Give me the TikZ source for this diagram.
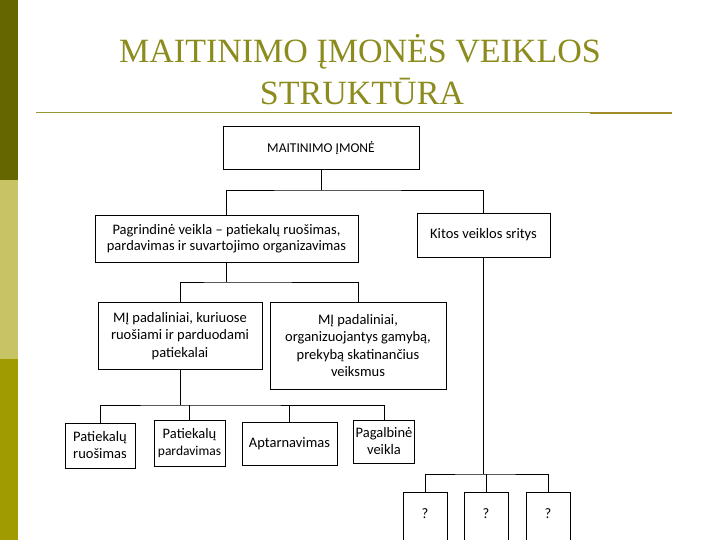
\documentclass[tikz,border=0pt]{standalone}
\usepackage{fontspec}
\setmainfont{Carlito}
\newfontfamily\titlefont{Liberation Serif}
\definecolor{bardark}{RGB}{102,102,0}
\definecolor{barlight}{RGB}{200,195,100}
\definecolor{barmid}{RGB}{160,155,0}
\definecolor{titlecol}{RGB}{140,140,30}
\definecolor{rulecol}{RGB}{150,150,50}
\definecolor{rulegold}{RGB}{160,140,40}

\begin{document}
\begin{tikzpicture}[x=1pt,y=-1pt,
  box/.style={draw,thick,align=center,inner sep=2pt,font=\fontsize{14.5}{17}\selectfont},
  link/.style={semithick}]
\useasboundingbox (0,0) rectangle (720,540);

% side bar
\fill[bardark] (0,0) rectangle (18,180);
\fill[barlight] (0,180) rectangle (18,359);
\fill[barmid] (0,359) rectangle (18,540);

% title
\node[anchor=base,text=titlecol,font=\titlefont\fontsize{34}{40}\selectfont] (title1) at (360,63) {MAITINIMO ĮMONĖS VEIKLOS};
\node[anchor=base,text=titlecol,font=\titlefont\fontsize{34}{40}\selectfont] (title2) at (362,105) {STRUKTŪRA};
\draw[rulecol,line width=1pt] (36,113) -- (672,113);
\draw[rulegold,line width=2.5pt] (590,113) -- (672,113);

% boxes
\node[box,minimum width=196pt,minimum height=43pt,font=\fontsize{13.5}{16}\selectfont] (top) at (321,148) {MAITINIMO ĮMONĖ};
\node[box,minimum width=263pt,minimum height=47pt,font=\fontsize{14.5}{15.5}\selectfont] (pag) at (226.5,238.5)
  {Pagrindinė veikla – patiekalų ruošimas,\\pardavimas ir suvartojimo organizavimas};
\node[box,minimum width=133pt,minimum height=44pt] (kit) at (483.5,235) {Kitos veiklos sritys};
\node[box,minimum width=164pt,minimum height=67pt,font=\fontsize{14.5}{17.5}\selectfont] (mi1) at (180,336)
  {MĮ padaliniai, kuriuose\\ruošiami ir parduodami\\patiekalai};
\node[box,minimum width=176pt,minimum height=87pt,font=\fontsize{14.5}{17.5}\selectfont] (mi2) at (358,345.5)
  {MĮ padaliniai,\\organizuojantys gamybą,\\prekybą skatinančius\\veiksmus};

\node[box,minimum width=70pt,minimum height=45pt] (b1) at (100,445.5) {Patiekalų\\ruošimas};
\node[box,minimum width=71pt,minimum height=46pt,inner sep=1pt] (b2) at (189.5,443) {Patiekalų\\{\fontsize{13.5}{15}\selectfont pardavimas}};
\node[box,minimum width=95pt,minimum height=43pt] (b3) at (289.5,443.5) {Aptarnavimas};
\node[box,minimum width=58pt,minimum height=43pt] (b4) at (384,441.5) {Pagalbinė\\veikla};

\node[box,minimum width=44pt,text height=24pt,text depth=30pt,anchor=north] (q1) at (425,492) {?};
\node[box,minimum width=44pt,text height=24pt,text depth=30pt,anchor=north] (q2) at (486,492) {?};
\node[box,minimum width=44pt,text height=24pt,text depth=30pt,anchor=north] (q3) at (548,492) {?};

% connectors
\coordinate (j1) at (321,190);
\coordinate (j2) at (226.5,282);
\coordinate (j3) at (180,405);
\coordinate (j4) at (483.5,474);

\draw[link] (top.south) -- (j1);
\draw[link] (pag.north) |- (j1) -| (kit.north);

\draw[link] (pag.south) -- (j2);
\draw[link] (mi1.north) |- (j2) -| (mi2.north);

\draw[link] (mi1.south) -- (j3);
\draw[link] (b1.north) |- (j3) -| (b4.north);
\draw[link] (b2.north) -- (b2.north |- j3);
\draw[link] (b3.north) -- (b3.north |- j3);

\draw[link] (kit.south) -- (j4);
\draw[link] (q1.north) |- (j4) -| (q3.north);
\draw[link] (q2.north) -- (q2.north |- j4);

\end{tikzpicture}
\end{document}
